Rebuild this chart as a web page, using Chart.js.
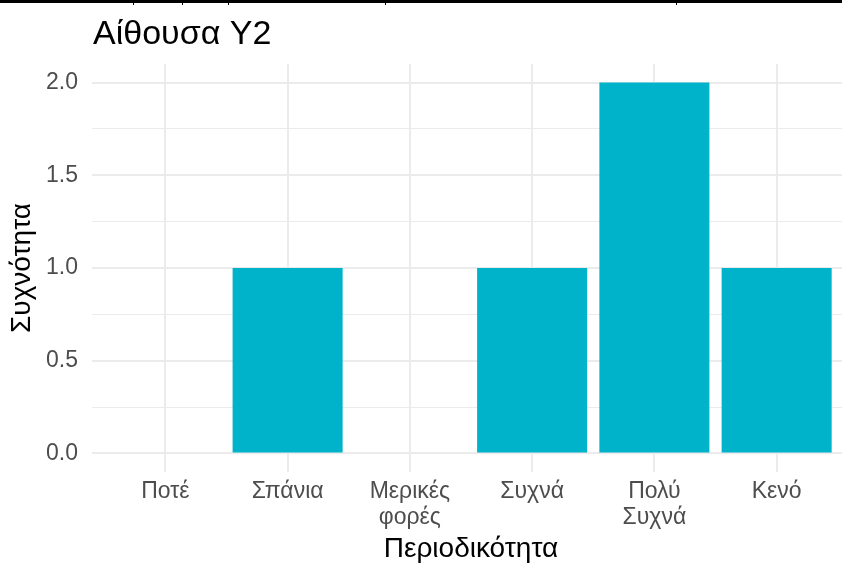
<!DOCTYPE html>
<html>
<head>
<meta charset="utf-8">
<script src="https://cdn.jsdelivr.net/npm/chart.js@4"></script>
<style>
  html, body { margin:0; padding:0; overflow:hidden; background:#fff; }
  #wrap { position:relative; width:842px; height:565px; overflow:hidden; }
  #topline { position:absolute; left:0; top:0; width:842px; height:3px; background:#000; z-index:2; }
  .tk { position:absolute; top:0; width:1px; height:5px; background:#000; z-index:2; }
  canvas { position:absolute; left:0; top:0; }
</style>
</head>
<body>
<div id="wrap">
  <div id="topline"></div>
  <div class="tk" style="left:133px"></div>
  <div class="tk" style="left:182px"></div>
  <div class="tk" style="left:228px"></div>
  <div class="tk" style="left:385px"></div>
  <div class="tk" style="left:676px"></div>
  <canvas id="c" width="860" height="565"></canvas>
</div>
<script>
// data
const categories = [['Ποτέ'], ['Σπάνια'], ['Μερικές', 'φορές'], ['Συχνά'], ['Πολύ', 'Συχνά'], ['Κενό']];
const positions = [1, 2, 3, 4, 5, 6];
const counts = [0, 1, 0, 1, 2, 1];
const yTicks = [0, 0.5, 1, 1.5, 2];

const chartTitle = 'Αίθουσα Υ2';
const FONT = "'Liberation Sans', Arial, sans-serif";

// the plot title sits at the left edge of the panel, like ggplot does it
const titlePlugin = {
  id: 'plotTitle',
  afterDraw(chart) {
    const c = chart.ctx;
    c.save();
    c.font = '34px ' + FONT;
    c.fillStyle = '#000';
    c.textBaseline = 'alphabetic';
    c.fillText(chartTitle, chart.chartArea.left + 1, 44);
    c.restore();
  }
};

new Chart(document.getElementById('c').getContext('2d'), {
  type: 'bar',
  data: {
    datasets: [{
      data: positions.map((p, i) => ({ x: p, y: counts[i] })),
      backgroundColor: '#00b2ca',
      borderWidth: 0,
      barPercentage: 0.9,
      categoryPercentage: 1
    }]
  },
  options: {
    responsive: false,
    animation: false,
    layout: { padding: { top: 64, right: 10, left: 0, bottom: 0 } },
    plugins: { legend: { display: false }, tooltip: { enabled: false } },
    scales: {
      x: {
        type: 'linear',
        min: 0.4,
        max: 6.6,
        offset: false,
        afterFit(s) { s.height = 93; },
        border: { display: false },
        grid: { color: '#ebebeb', lineWidth: 2, drawTicks: false, offset: false },
        ticks: {
          stepSize: 1,
          includeBounds: false,
          autoSkip: false,
          maxRotation: 0,
          padding: 7,
          color: '#4d4d4d',
          font: { family: FONT, size: 23, lineHeight: 1.13 },
          callback: v => categories[v - 1] || ''
        },
        title: {
          display: true,
          text: 'Περιοδικότητα',
          color: '#000',
          font: { family: FONT, size: 28, lineHeight: 1 },
          padding: { top: 0, bottom: 2 }
        }
      },
      y: {
        min: -0.1,
        max: 2.1,
        afterFit(s) { s.width = 92; },
        border: { display: false },
        grid: {
          color: '#ebebeb',
          drawTicks: false,
          lineWidth: ctx => (yTicks.includes(ctx.tick.value) ? 2 : 1)
        },
        ticks: {
          stepSize: 0.25,
          includeBounds: false,
          autoSkip: false,
          padding: 14,
          color: '#4d4d4d',
          font: { family: FONT, size: 23 },
          callback: v => (yTicks.includes(v) ? v.toFixed(1) : '')
        },
        title: {
          display: true,
          text: 'Συχνότητα',
          color: '#000',
          font: { family: FONT, size: 28, lineHeight: 1 },
          padding: { top: 8, bottom: 0 }
        }
      }
    }
  },
  plugins: [titlePlugin]
});
</script>
</body>
</html>
